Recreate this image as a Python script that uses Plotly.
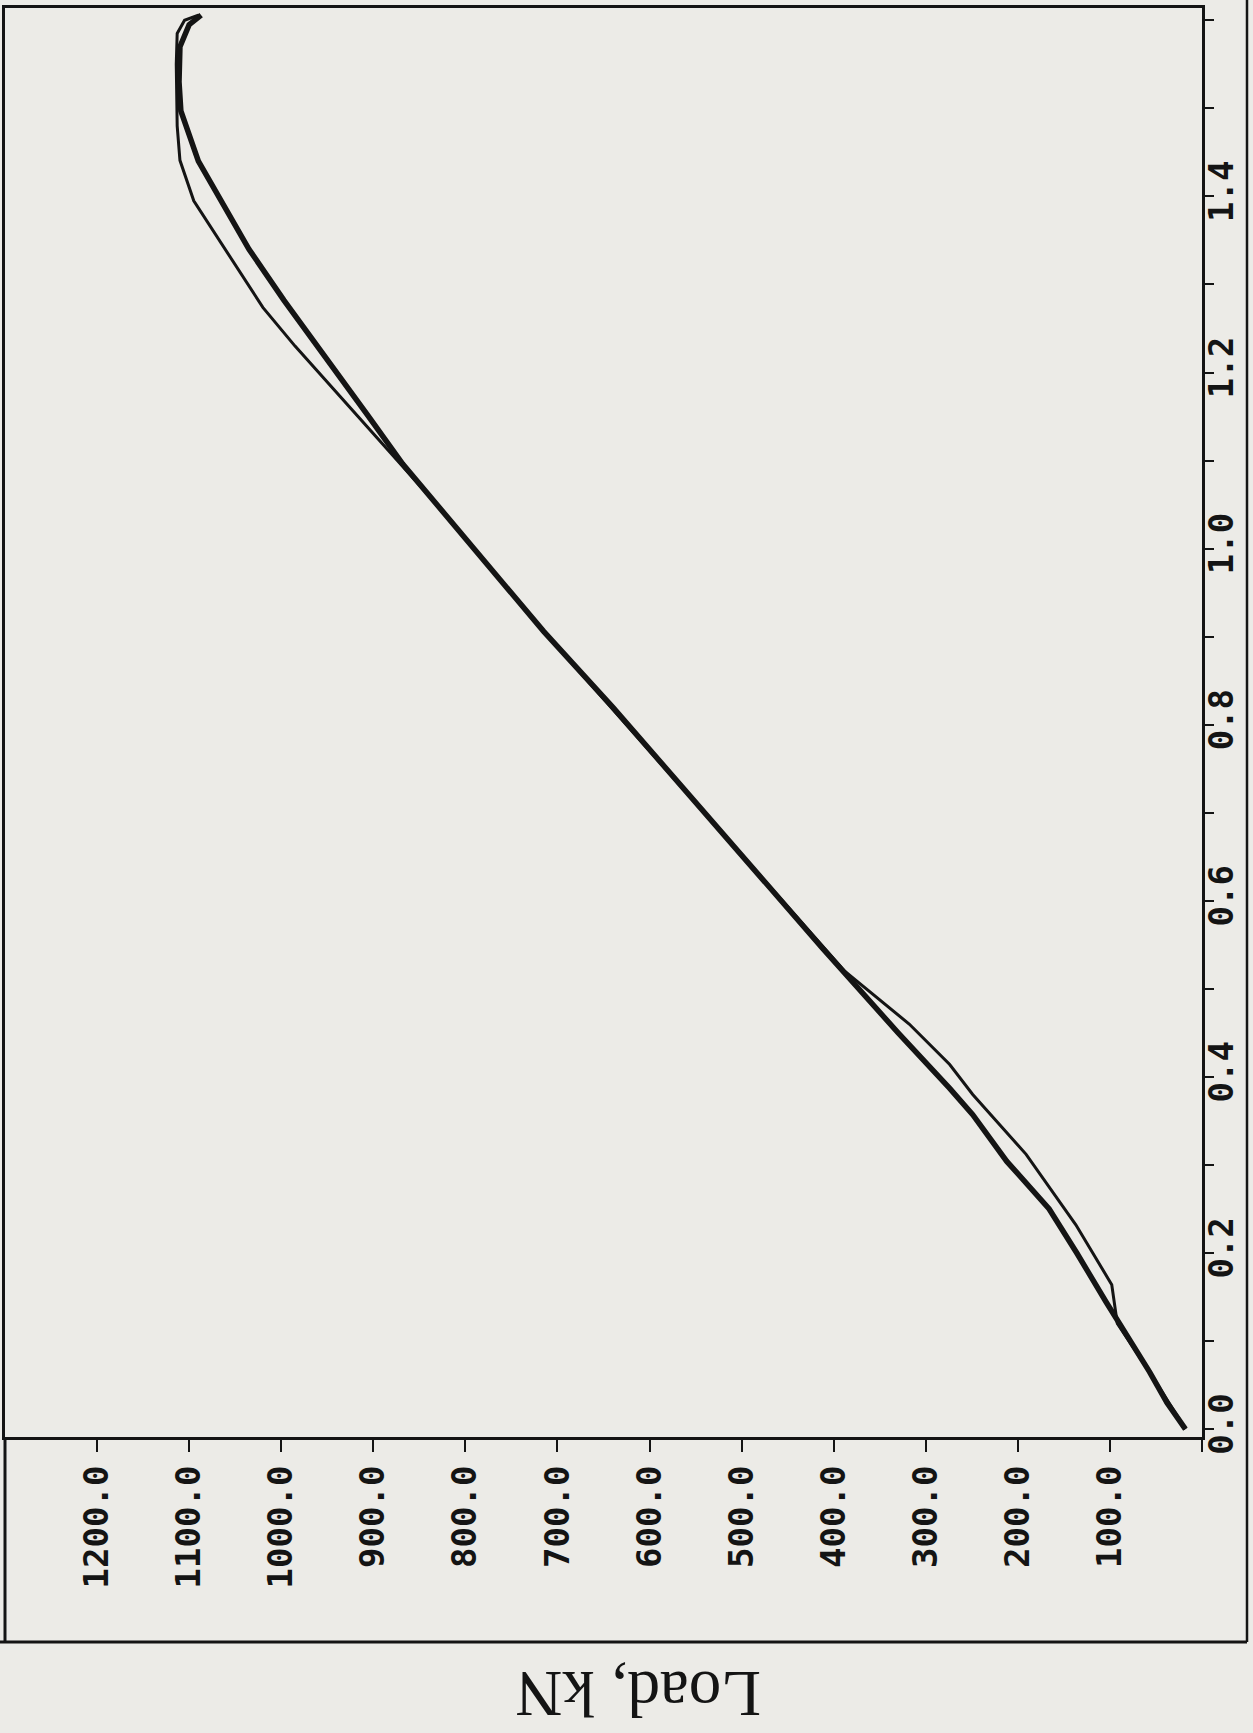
import plotly.graph_objects as go

# ---- data ----
load_ticks = [0, 100, 200, 300, 400, 500, 600, 700, 800, 900, 1000, 1100, 1200]
load_labels = ["", "100.0", "200.0", "300.0", "400.0", "500.0", "600.0",
               "700.0", "800.0", "900.0", "1000.0", "1100.0", "1200.0"]
disp_ticks = [0.0, 0.2, 0.4, 0.6, 0.8, 1.0, 1.2, 1.4]
disp_labels = ["0.0", "0.2", "0.4", "0.6", "0.8", "1.0", "1.2", "1.4"]

thick_disp = [0.000, 0.030, 0.065, 0.100, 0.144, 0.200, 0.250, 0.304, 0.357, 0.387,
              0.450, 0.546, 0.640, 0.728, 0.820, 0.906, 1.000, 1.058, 1.096, 1.150,
              1.199, 1.240, 1.282, 1.340, 1.395, 1.440, 1.497, 1.530, 1.570, 1.595, 1.606]
thick_load = [18, 38, 57, 78, 104, 136, 166, 212, 249, 274,
              330, 412, 490, 564, 640, 715, 790, 838, 868, 905,
              939, 968, 997, 1035, 1066, 1090, 1109, 1111, 1110, 1100, 1087]

thin_disp = [0.000, 0.065, 0.120, 0.141, 0.164, 0.232, 0.312, 0.380, 0.414, 0.460,
             0.520, 0.546, 0.728, 0.906, 1.058, 1.138, 1.176, 1.230, 1.274, 1.340,
             1.395, 1.441, 1.480, 1.550, 1.585, 1.600, 1.606]
thin_load = [18, 57, 92, 95, 98, 137, 191, 249, 274, 318,
             388, 410, 564, 715, 838, 906, 939, 985, 1020, 1061,
             1095, 1110, 1113, 1114, 1113, 1105, 1090]

# ---- layout geometry ----
W, H = 1253, 1733
L, R, T, B = 5, 1202, 8, 1437


def px(xp):
    return (xp - L) / (R - L)


def py(yp):
    return (B - yp) / (B - T)


INK = "#141414"
BG = "#ecebe7"
tickfont = dict(family="DejaVu Sans Mono", size=34, color=INK, weight="bold")

fig = go.Figure()
fig.add_trace(go.Scatter(x=thin_load, y=thin_disp, mode="lines",
                         line=dict(color=INK, width=3), showlegend=False))
fig.add_trace(go.Scatter(x=thick_load, y=thick_disp, mode="lines",
                         line=dict(color=INK, width=5.5), showlegend=False))

fig.update_layout(
    width=W, height=H,
    margin=dict(l=L, r=W - R, t=T, b=H - B, pad=0, autoexpand=False),
    paper_bgcolor=BG, plot_bgcolor=BG,
    xaxis=dict(range=[1300, 0], tickmode="array", tickvals=load_ticks, ticktext=load_labels,
               ticks="outside", ticklen=12, tickwidth=2, tickcolor=INK, tickangle=-90,
               showline=True, linecolor=INK, linewidth=3, mirror=True, automargin=False,
               showgrid=False, zeroline=False, tickfont=tickfont),
    yaxis=dict(side="right", range=[-0.009, 1.614], tickmode="array", tickvals=disp_ticks,
               ticktext=disp_labels, ticks="outside", ticklen=9, tickwidth=2, tickcolor=INK,
               tickangle=-90, automargin=False, ticklabelstandoff=-22,
               minor=dict(dtick=0.1, tick0=0, ticks="outside", ticklen=9, tickwidth=2,
                          tickcolor=INK, showgrid=False),
               showline=True, linecolor=INK, linewidth=3, mirror=True,
               showgrid=False, zeroline=False, tickfont=tickfont),
    annotations=[dict(text="Load, kN", textangle=180, x=px(638), y=py(1694),
                      xref="paper", yref="paper", xanchor="center", yanchor="middle",
                      showarrow=False,
                      font=dict(family="Liberation Serif", size=65, color=INK))],
    shapes=[
        dict(type="line", xref="paper", yref="paper", x0=px(5), x1=px(5), y0=py(1437), y1=py(1642),
             line=dict(color=INK, width=3)),
        dict(type="line", xref="paper", yref="paper", x0=px(0), x1=px(1247), y0=py(1642), y1=py(1642),
             line=dict(color=INK, width=3)),
        dict(type="line", xref="paper", yref="paper", x0=px(1247), x1=px(1247), y0=py(0), y1=py(1642),
             line=dict(color=INK, width=2.5)),
    ],
)

fig.write_html("out.html", config={"displayModeBar": False},
               post_script="document.body.style.margin='0';document.body.style.overflow='hidden';")
